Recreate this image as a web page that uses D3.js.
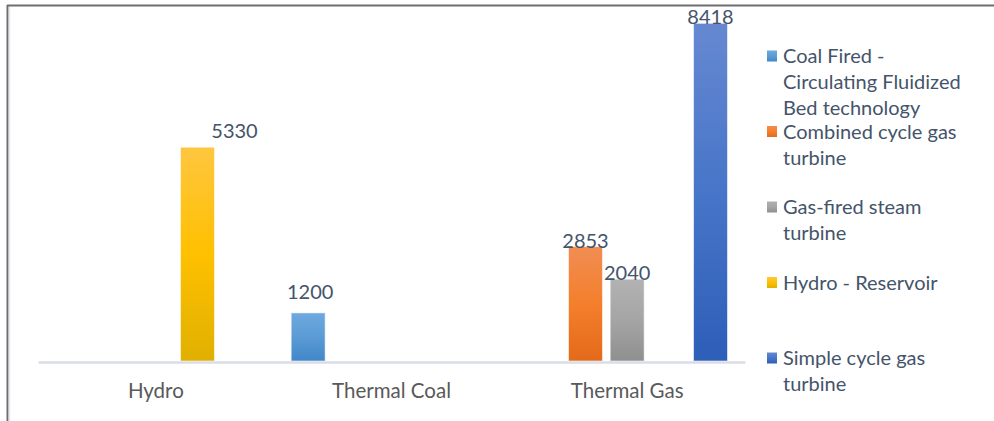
<!DOCTYPE html>
<html>
<head>
<meta charset="utf-8">
<script src="https://cdn.jsdelivr.net/npm/d3@7"></script>
<style>
  html, body { margin: 0; padding: 0; background: #ffffff; }
  svg { display: block; }
</style>
</head>
<body>
<svg id="chart" width="994" height="421"></svg>
<script>
// ---- data ----
const categories = ["Hydro", "Thermal Coal", "Thermal Gas"];
const seriesNames = [
  "Coal Fired - Circulating Fluidized Bed technology",
  "Combined cycle gas turbine",
  "Gas-fired steam turbine",
  "Hydro - Reservoir",
  "Simple cycle gas turbine"
];
// values per series, aligned with categories (null = no bar)
const coalFiredCFB   = [null, 1200, null];
const combinedCycle  = [null, null, 2853];
const gasFiredSteam  = [null, null, 2040];
const hydroReservoir = [5330, null, null];
const simpleCycle    = [null, null, 8418];
const seriesValues = [coalFiredCFB, combinedCycle, gasFiredSteam, hydroReservoir, simpleCycle];

// ---- styling / layout ----
const legendLines = [
  ["Coal Fired -", "Circulating Fluidized", "Bed technology"],
  ["Combined cycle gas", "turbine"],
  ["Gas-fired steam", "turbine"],
  ["Hydro - Reservoir"],
  ["Simple cycle gas", "turbine"]
];
const gradTop    = ["#6ea9df", "#f18d53", "#b2b2b2", "#fec63f", "#6688d1"];
const gradMid    = ["#5b9bd5", "#f47f2c", "#a5a5a5", "#ffc000", "#4775c8"];
const gradBottom = ["#4187ca", "#e36a19", "#8f8f8f", "#e0b000", "#2d5eb8"];
// label nudges (px) relative to the default above-bar position
const labelNudge = {
  "Hydro - Reservoir": [37, -10],
  "Coal Fired - Circulating Fluidized Bed technology": [2, -15]
};

const FONT = "Lato, 'Open Sans', sans-serif";
const svg = d3.select("#chart");
const defs = svg.append("defs");

seriesNames.forEach((s, i) => {
  const g = defs.append("linearGradient").attr("id", "grad" + i)
    .attr("x1", 0).attr("y1", 0).attr("x2", 0).attr("y2", 1);
  g.append("stop").attr("offset", "0%").attr("stop-color", gradTop[i]);
  g.append("stop").attr("offset", "50%").attr("stop-color", gradMid[i]);
  g.append("stop").attr("offset", "100%").attr("stop-color", gradBottom[i]);
});

// frame
svg.append("rect").attr("x", 0).attr("y", 0).attr("width", 994).attr("height", 421).attr("fill", "#fff");
svg.append("line").attr("x1", 7).attr("x2", 994).attr("y1", 5.5).attr("y2", 5.5)
  .attr("stroke", "#6e6e6e").attr("stroke-width", 2);
svg.append("line").attr("x1", 7.5).attr("x2", 7.5).attr("y1", 5).attr("y2", 421)
  .attr("stroke", "#6e6e6e").attr("stroke-width", 2);
svg.append("line").attr("x1", 9.5).attr("x2", 9.5).attr("y1", 7).attr("y2", 421)
  .attr("stroke", "#e4e8ef").attr("stroke-width", 1.5);

// scales
const plotLeft = 38, plotRight = 745, baseY = 361, topY = 0;
const x0 = d3.scaleBand().domain(categories).range([plotLeft, plotRight]).paddingInner(0).paddingOuter(0);
const x1 = d3.scaleBand().domain(seriesNames).range([0, x0.bandwidth()]).paddingInner(0.185).paddingOuter(0.42);
const y = d3.scaleLinear().domain([0, 9000]).range([baseY, topY]);

// bars
const barData = [];
seriesNames.forEach((s, si) => {
  seriesValues[si].forEach((v, ci) => {
    if (v != null) barData.push({ series: s, si, cat: categories[ci], value: v });
  });
});

svg.append("g").selectAll("rect").data(barData).join("rect")
  .attr("x", d => x0(d.cat) + x1(d.series))
  .attr("y", d => y(d.value))
  .attr("width", x1.bandwidth())
  .attr("height", d => y(0) - y(d.value))
  .attr("fill", d => `url(#grad${d.si})`)
  .attr("stroke", "rgba(255,255,255,0.55)")
  .attr("stroke-width", 1);

// axis
const axis = svg.append("g").attr("transform", `translate(0,${baseY + 1})`)
  .call(d3.axisBottom(x0).tickSize(0).tickSizeOuter(0).tickPadding(21));
axis.select(".domain").attr("stroke", "#d9dde5").attr("stroke-width", 2.5);
axis.selectAll("text").attr("font-family", FONT).attr("font-size", 20.5).attr("fill", "#595959");

// data labels
svg.append("g").selectAll("text").data(barData).join("text")
  .attr("x", d => x0(d.cat) + x1(d.series) + x1.bandwidth() / 2 + (labelNudge[d.series] ? labelNudge[d.series][0] : 0))
  .attr("y", d => y(d.value) + 1 + (labelNudge[d.series] ? labelNudge[d.series][1] : 0))
  .attr("text-anchor", "middle")
  .attr("font-family", FONT).attr("font-size", 20)
  .attr("fill", "#44546a")
  .text(d => d.value);

// legend
const legendX = 767, legendTop = 56, legendStep = 75.5, lineH = 26;
const leg = svg.append("g");
seriesNames.forEach((s, i) => {
  const cy = legendTop + i * legendStep;
  leg.append("rect").attr("x", legendX).attr("y", cy - 5.5).attr("width", 10).attr("height", 11)
    .attr("fill", `url(#grad${i})`);
  const t = leg.append("text").attr("font-family", FONT).attr("font-size", 20).attr("fill", "#44546a");
  legendLines[i].forEach((ln, k) => {
    t.append("tspan").attr("x", legendX + 16).attr("y", cy + 7 + k * lineH).text(ln);
  });
});
</script>
</body>
</html>
